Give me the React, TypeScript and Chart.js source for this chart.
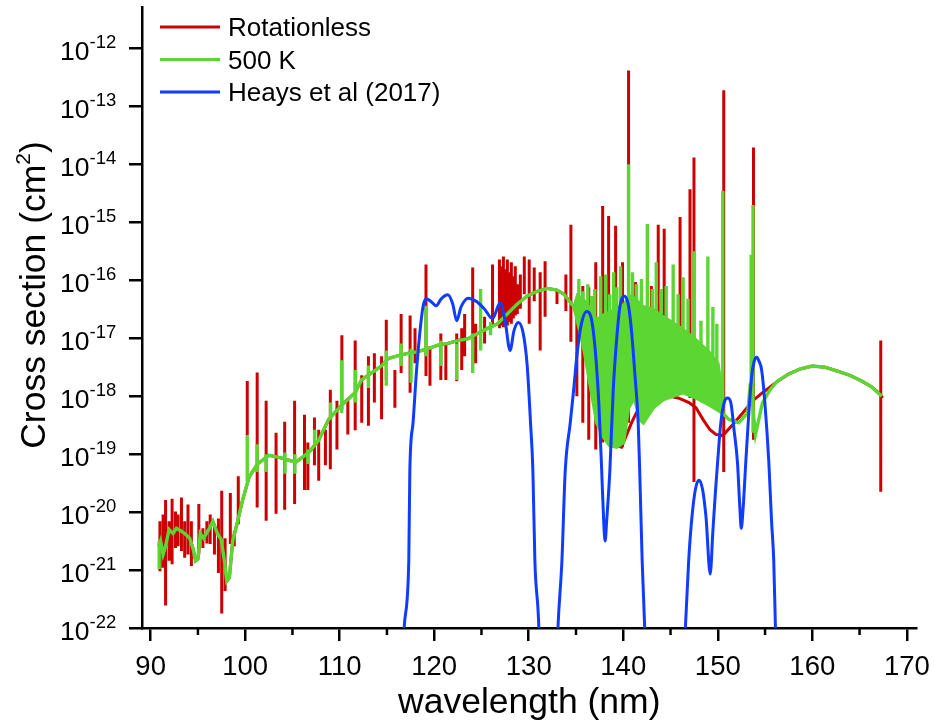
import React, { useEffect, useRef } from 'react';
import { Chart, registerables } from 'chart.js';

Chart.register(...registerables);

const FONT = "'Liberation Sans', Arial, Helvetica, sans-serif";

// ---------- axis ticks ----------
const xMajorTicks = [90, 100, 110, 120, 130, 140, 150, 160, 170];
const xMinorTicks = [95, 105, 115, 125, 135, 145, 155, 165];
const yTickExponents = [-22, -21, -20, -19, -18, -17, -16, -15, -14, -13, -12];

// ---------- legend ----------
const seriesNames = ['Rotationless', '500 K', 'Heays et al (2017)'];
const seriesColors = ['#cc0000', '#5cd632', '#0f3cff'];

// ---------- data (wavelength in nm, log10 of cross section in cm^2) ----------
// shared continuum of both calculations (91-135 nm)
const continuumNm = [90.87, 91.05, 91.32, 91.58, 91.95, 92.37, 92.73, 93.26, 93.60, 94.13, 94.47, 94.76, 95.00, 95.25, 95.60, 96.05, 96.58, 96.86, 97.10, 97.46, 97.80, 98.05, 98.33, 98.68, 99.20, 99.73, 100.43, 101.30, 102.53, 103.93, 105.34, 106.73, 107.78, 108.83, 110.23, 111.64, 112.30, 113.35, 114.40, 115.14, 116.19, 117.24, 118.29, 119.34, 120.39, 121.44, 122.49, 123.54, 124.59, 125.64, 126.69, 127.74, 128.79, 129.84, 130.89, 131.94, 132.99, 133.73, 134.78];
const continuumLog = [-20.59, -20.50, -20.73, -20.59, -20.30, -20.37, -20.28, -20.33, -20.37, -20.45, -20.62, -20.84, -20.81, -20.37, -20.45, -20.33, -20.16, -20.28, -20.38, -20.47, -20.84, -21.19, -21.13, -20.50, -20.16, -19.79, -19.39, -19.17, -19.02, -19.07, -19.14, -18.97, -18.76, -18.40, -18.15, -17.94, -17.72, -17.60, -17.48, -17.35, -17.30, -17.26, -17.23, -17.18, -17.12, -17.09, -17.04, -17.01, -16.92, -16.83, -16.75, -16.58, -16.41, -16.27, -16.19, -16.14, -16.17, -16.24, -16.46];

// Rotationless: continuum beyond 135 nm
const rotationlessTailNm = [135.62, 136.67, 137.72, 138.77, 139.82, 140.87, 141.92, 143.18, 144.55, 145.81, 146.96, 147.70, 148.43, 149.17, 149.80, 150.53, 151.59, 152.64, 153.69, 154.74, 156.10, 157.47, 158.73, 159.99, 161.35, 162.72, 163.98, 165.24, 166.29, 167.03, 167.45];
const rotationlessTailLog = [-16.92, -17.77, -18.46, -18.83, -18.88, -18.46, -18.11, -17.98, -17.99, -18.03, -18.11, -18.20, -18.40, -18.58, -18.66, -18.68, -18.49, -18.29, -18.08, -17.94, -17.77, -17.62, -17.53, -17.48, -17.50, -17.57, -17.64, -17.74, -17.84, -17.94, -18.03];

// Rotationless: sharp lines (position, top, bottom)
const rotationlessLineNm = [90.98, 91.32, 91.58, 91.95, 92.27, 92.63, 92.90, 93.26, 93.60, 93.95, 94.31, 95.10, 95.53, 95.95, 96.30, 96.75, 97.17, 97.52, 97.88, 98.43, 98.85, 99.27, 100.22, 101.27, 102.22, 103.27, 104.18, 105.23, 106.28, 106.63, 107.33, 107.78, 108.49, 109.01, 109.71, 110.23, 110.86, 111.64, 112.33, 113.04, 113.67, 114.43, 114.93, 115.84, 116.50, 117.45, 117.97, 119.13, 119.55, 120.70, 121.23, 122.38, 122.91, 123.22, 124.07, 124.38, 125.33, 126.17, 126.90, 127.11, 127.32, 127.53, 127.74, 127.95, 128.16, 128.37, 128.58, 128.79, 129.11, 129.53, 130.05, 130.58, 131.21, 131.73, 132.99, 133.93, 134.46, 135.09, 135.72, 136.35, 137.09, 137.82, 138.45, 139.19, 139.92, 140.56, 141.29, 142.97, 143.70, 144.33, 146.01, 147.06, 147.48, 150.63, 153.78, 167.24];
const rotationlessLineTop = [-20.16, -20.04, -19.79, -20.16, -19.77, -19.99, -20.04, -19.75, -20.16, -19.87, -20.16, -19.86, -20.28, -20.16, -20.04, -20.21, -20.11, -19.63, -20.45, -19.67, -20.33, -19.38, -17.74, -17.59, -18.08, -18.63, -18.44, -18.08, -18.32, -18.80, -18.37, -18.58, -18.58, -17.89, -18.08, -16.95, -18.03, -17.04, -17.64, -17.31, -17.26, -17.31, -16.68, -17.55, -16.58, -16.61, -16.83, -15.73, -17.14, -16.92, -17.09, -16.92, -16.83, -16.58, -15.78, -16.75, -16.63, -15.73, -15.64, -15.76, -15.59, -15.81, -15.64, -15.86, -15.69, -15.93, -15.76, -16.07, -15.90, -15.59, -15.64, -15.78, -15.86, -15.67, -16.15, -15.90, -15.04, -16.32, -16.10, -16.12, -15.69, -14.72, -14.89, -15.06, -15.69, -12.38, -16.03, -16.10, -15.04, -15.11, -14.91, -14.43, -13.88, -12.72, -13.71, -17.04];
const rotationlessLineBottom = [-21.02, -20.96, -21.61, -20.84, -20.90, -20.62, -20.59, -20.67, -20.79, -20.73, -20.93, -20.73, -20.62, -20.54, -20.55, -20.73, -21.05, -21.75, -21.36, -20.55, -20.59, -20.21, -18.68, -19.92, -20.15, -20.03, -19.96, -19.86, -19.62, -19.62, -19.19, -19.46, -19.19, -19.26, -18.92, -18.23, -18.66, -18.59, -18.46, -18.51, -18.11, -18.40, -17.72, -18.20, -17.60, -17.94, -17.43, -17.65, -17.82, -17.72, -17.72, -17.74, -17.55, -17.31, -17.47, -17.43, -17.09, -16.80, -16.83, -16.78, -16.81, -16.75, -16.78, -16.72, -16.75, -16.66, -16.61, -16.58, -16.49, -16.24, -16.75, -16.36, -17.21, -16.63, -16.41, -16.53, -17.06, -18.00, -18.46, -18.75, -18.92, -18.80, -18.80, -18.88, -18.88, -18.46, -18.11, -18.11, -18.03, -18.03, -17.94, -18.03, -19.48, -19.31, -18.75, -19.65];

// 500 K: dense band of unresolved lines 135-151 nm (upper and lower edge)
const bandNm = [134.78, 135.09, 135.83, 136.46, 137.19, 137.93, 138.56, 139.30, 140.03, 140.56, 141.19, 141.71, 142.13, 143.18, 144.23, 145.28, 146.33, 147.70, 149.06, 150.11, 150.69];
const bandUpperLog = [-16.41, -16.24, -16.32, -16.46, -16.66, -16.58, -16.54, -16.46, -16.41, -16.24, -16.29, -16.37, -16.44, -16.49, -16.61, -16.72, -16.83, -17.01, -17.21, -17.43, -18.11];
const bandLowerLog = [-16.46, -16.66, -17.18, -17.77, -18.46, -18.71, -18.85, -18.88, -18.80, -18.20, -18.03, -18.40, -18.46, -18.20, -18.06, -18.00, -17.94, -18.03, -18.15, -18.25, -18.32];

// 500 K: continuum beyond the band
const warmTailNm = [151.16, 152.21, 153.16, 153.45, 153.99, 154.73, 155.57, 156.31, 157.47, 158.73, 159.99, 161.35, 162.72, 163.98, 165.24, 166.29, 167.34];
const warmTailLog = [-18.40, -18.46, -18.29, -17.77, -18.66, -18.11, -17.88, -17.74, -17.62, -17.53, -17.48, -17.50, -17.57, -17.64, -17.74, -17.84, -18.00];

// 500 K: lines (position, top, bottom)
const warmLineNm = [90.90, 100.22, 101.27, 102.22, 104.21, 105.26, 106.63, 107.36, 109.04, 110.20, 111.67, 113.04, 114.93, 116.50, 117.55, 119.13, 120.70, 122.38, 124.07, 124.91, 125.96, 135.30, 135.72, 136.25, 136.67, 136.98, 137.61, 138.14, 138.56, 138.98, 139.30, 139.71, 140.56, 140.98, 141.40, 141.92, 142.55, 143.07, 143.49, 144.02, 144.54, 145.28, 145.80, 146.33, 146.85, 147.48, 148.22, 148.95, 149.48, 149.90, 150.53, 153.53, 153.73];
const warmLineTop = [-20.50, -18.68, -18.83, -19.00, -18.97, -19.00, -18.92, -18.58, -18.11, -17.38, -17.55, -17.47, -17.21, -17.09, -17.18, -16.44, -17.04, -17.09, -16.92, -16.15, -16.72, -15.98, -16.19, -16.07, -16.27, -16.15, -15.93, -15.90, -16.24, -15.86, -16.12, -15.76, -14.00, -15.86, -16.07, -15.98, -15.03, -16.15, -15.69, -16.15, -16.10, -15.73, -16.24, -15.95, -16.32, -15.50, -16.70, -15.59, -16.46, -16.75, -14.46, -15.56, -14.70];
const warmLineBottom = [-20.98, -19.48, -19.31, -19.31, -19.34, -19.34, -19.17, -18.85, -18.40, -18.29, -18.11, -17.86, -17.82, -17.48, -17.77, -17.31, -17.48, -17.72, -17.60, -17.21, -16.95, -16.75, -17.05, -17.43, -17.94, -18.11, -18.46, -18.63, -18.80, -18.80, -18.80, -18.80, -18.20, -18.05, -18.11, -18.11, -18.11, -18.03, -18.03, -18.03, -17.94, -17.94, -17.94, -17.94, -17.94, -17.98, -18.03, -18.11, -18.15, -18.20, -18.29, -17.85, -18.63];

// Heays et al (2017)
const heaysNm = [116.61, 116.82, 117.31, 117.42, 117.76, 118.11, 118.47, 118.81, 119.16, 119.68, 120.21, 120.74, 121.44, 121.96, 122.38, 122.84, 123.61, 124.41, 125.29, 126.17, 126.97, 127.50, 128.02, 128.44, 128.90, 129.42, 129.84, 130.19, 130.44, 130.65, 131.07, 131.21,
  132.89, 133.09, 133.51, 133.86, 134.39, 134.75, 135.09, 135.51, 136.14, 136.67, 137.09, 137.43, 137.72, 137.93, 138.08, 138.24, 138.58, 138.94, 139.29, 139.64, 140.06, 140.52, 140.87, 141.22, 141.58, 141.74, 142.00, 142.27, 142.45,
  146.33, 146.57, 146.92, 147.27, 147.64, 148.01, 148.38, 148.75, 149.20, 149.48, 149.75, 149.98, 150.32, 150.67, 151.03, 151.38, 151.72, 152.08, 152.33, 152.48, 152.69, 152.96, 153.24, 153.59, 153.85, 154.12, 154.37, 154.64, 154.98, 155.40, 155.69, 155.92, 156.10, 156.31];
const heaysLog = [-23, -22, -20.84, -19.29, -18.46, -17.60, -16.92, -16.46, -16.32, -16.37, -16.44, -16.32, -16.25, -16.41, -16.70, -16.46, -16.31, -16.36, -16.49, -16.66, -16.39, -16.70, -17.21, -16.87, -16.73, -16.92, -17.48, -18.46, -19.29, -20.84, -22, -23,
  -23, -22, -20.84, -19.29, -18.46, -17.89, -17.31, -16.80, -16.54, -16.70, -17.31, -18.17, -19.29, -20.16, -20.50, -20.16, -19.29, -17.89, -17.04, -16.46, -16.27, -16.41, -16.87, -17.60, -18.46, -19.29, -20.84, -22, -23,
  -23, -22, -20.84, -20.08, -19.60, -19.45, -19.60, -20.08, -21.07, -20.33, -19.65, -19.14, -18.46, -18.11, -18.03, -18.11, -18.58, -19.14, -19.91, -20.28, -19.91, -19.14, -18.40, -17.65, -17.40, -17.33, -17.40, -17.55, -18.11, -19.14, -20.16, -20.84, -22, -23];

// ---------- helpers building the library's data tables ----------
type P = { x: number; y: number | null };
const toPoints = (xs: number[], logs: number[]): P[] => xs.map((x, i) => ({ x, y: Math.pow(10, logs[i]) }));
const toLines = (xs: number[], top: number[], bottom: number[]): P[] =>
  xs.flatMap((x, i) => [
    { x, y: Math.pow(10, top[i]) },
    { x, y: Math.pow(10, bottom[i]) },
    { x, y: null },
  ]);

const decorPlugin = {
  id: 'decor',
  afterDraw(chart: any) {
    const { ctx, chartArea, scales } = chart;
    const xs = scales.x;
    const ys = scales.y;
    ctx.save();
    // minor x ticks
    ctx.strokeStyle = '#000';
    ctx.lineWidth = 2.5;
    xMinorTicks.forEach((v) => {
      const px = xs.getPixelForValue(v);
      ctx.beginPath();
      ctx.moveTo(px, chartArea.bottom);
      ctx.lineTo(px, chartArea.bottom + 7);
      ctx.stroke();
    });
    // y tick labels 10^n
    ctx.fillStyle = '#000';
    ctx.textAlign = 'left';
    ctx.textBaseline = 'alphabetic';
    yTickExponents.forEach((e) => {
      const py = ys.getPixelForValue(Math.pow(10, e));
      ctx.font = `26.5px ${FONT}`;
      ctx.fillText('10', 60, py + 12);
      ctx.font = `18.5px ${FONT}`;
      ctx.fillText(String(e), 89.5, py);
    });
    // x title
    ctx.font = `35.5px ${FONT}`;
    ctx.textAlign = 'center';
    ctx.fillText('wavelength (nm)', (chartArea.left + chartArea.right) / 2, 713);
    // y title
    ctx.save();
    ctx.translate(45, 295);
    ctx.rotate(-Math.PI / 2);
    ctx.textAlign = 'left';
    const big = `35.5px ${FONT}`;
    const small = `21px ${FONT}`;
    const a = 'Cross section (cm';
    const b = '2';
    const c = ')';
    ctx.font = big;
    const wa = ctx.measureText(a).width;
    const wc = ctx.measureText(c).width;
    ctx.font = small;
    const wb = ctx.measureText(b).width;
    const x0 = -(wa + wb + wc) / 2;
    ctx.font = big;
    ctx.fillText(a, x0, 0);
    ctx.font = small;
    ctx.fillText(b, x0 + wa, -15);
    ctx.font = big;
    ctx.fillText(c, x0 + wa + wb, 0);
    ctx.restore();
    // legend
    seriesNames.forEach((name, i) => {
      const y = 27 + i * 32.5;
      ctx.strokeStyle = seriesColors[i];
      ctx.lineWidth = 3;
      ctx.beginPath();
      ctx.moveTo(160, y);
      ctx.lineTo(220, y);
      ctx.stroke();
      ctx.fillStyle = '#000';
      ctx.font = `26px ${FONT}`;
      ctx.textAlign = 'left';
      ctx.fillText(name, 228, y + 9);
    });
    ctx.restore();
  },
};

export default function App() {
  const ref = useRef<HTMLCanvasElement | null>(null);

  useEffect(() => {
    if (!ref.current) return;
    const [red, green, blue] = seriesColors;

    const rotationless = [...toPoints(continuumNm, continuumLog), ...toPoints(rotationlessTailNm, rotationlessTailLog)];
    const warm = [
      ...toPoints(continuumNm, continuumLog),
      ...toPoints(bandNm.slice(1), bandLowerLog.slice(1)),
      ...toPoints(warmTailNm, warmTailLog),
    ];

    const chart = new Chart(ref.current, {
      type: 'line',
      data: {
        datasets: [
          { label: seriesNames[2], data: toPoints(heaysNm, heaysLog), borderColor: blue, borderWidth: 3, pointRadius: 0, cubicInterpolationMode: 'monotone', order: 0 },
          { label: '500 K lines', data: toLines(warmLineNm, warmLineTop, warmLineBottom), borderColor: green, borderWidth: 3.4, pointRadius: 0, spanGaps: false, order: 1 },
          { label: '500 K band', data: toPoints(bandNm, bandUpperLog), borderColor: green, borderWidth: 1.5, backgroundColor: green, fill: '+1', pointRadius: 0, order: 2 },
          { label: seriesNames[1], data: warm, borderColor: green, borderWidth: 3.4, pointRadius: 0, order: 2 },
          { label: 'Rotationless lines', data: toLines(rotationlessLineNm, rotationlessLineTop, rotationlessLineBottom), borderColor: red, borderWidth: 3, pointRadius: 0, spanGaps: false, order: 3 },
          { label: seriesNames[0], data: rotationless, borderColor: red, borderWidth: 3, pointRadius: 0, order: 3 },
        ] as any,
      },
      options: {
        animation: false,
        responsive: false,
        events: [],
        layout: { padding: { left: 0, right: 18, top: 0, bottom: 0 } },
        plugins: { legend: { display: false }, tooltip: { enabled: false } },
        scales: {
          x: {
            type: 'linear',
            min: 89.086,
            max: 171.02,
            afterBuildTicks: (s: any) => { s.ticks = xMajorTicks.map((v) => ({ value: v })); },
            afterFit: (s: any) => { s.height = 99; },
            ticks: { font: { family: FONT, size: 27.5 }, color: '#000', padding: 10, maxRotation: 0, autoSkip: false },
            grid: { display: true, drawOnChartArea: false, drawTicks: true, tickLength: 13, color: '#000', lineWidth: 2.5 },
            border: { display: true, color: '#000', width: 2.5 },
          },
          y: {
            type: 'logarithmic',
            min: 1e-22,
            max: 5.15e-12,
            afterBuildTicks: (s: any) => { s.ticks = yTickExponents.map((e) => ({ value: Math.pow(10, e) })); },
            afterFit: (s: any) => { s.width = 142; },
            ticks: { callback: () => '', padding: 0, autoSkip: false },
            grid: { display: true, drawOnChartArea: false, drawTicks: true, tickLength: 13, color: '#000', lineWidth: 2.5 },
            border: { display: true, color: '#000', width: 2.5 },
          },
        },
      } as any,
      plugins: [decorPlugin],
    });
    return () => chart.destroy();
  }, []);

  return (
    <div style={{ position: 'absolute', left: 0, top: 0, width: 940, height: 727, background: '#fff' }}>
      <canvas ref={ref} width={940} height={727} style={{ display: 'block' }} />
    </div>
  );
}
